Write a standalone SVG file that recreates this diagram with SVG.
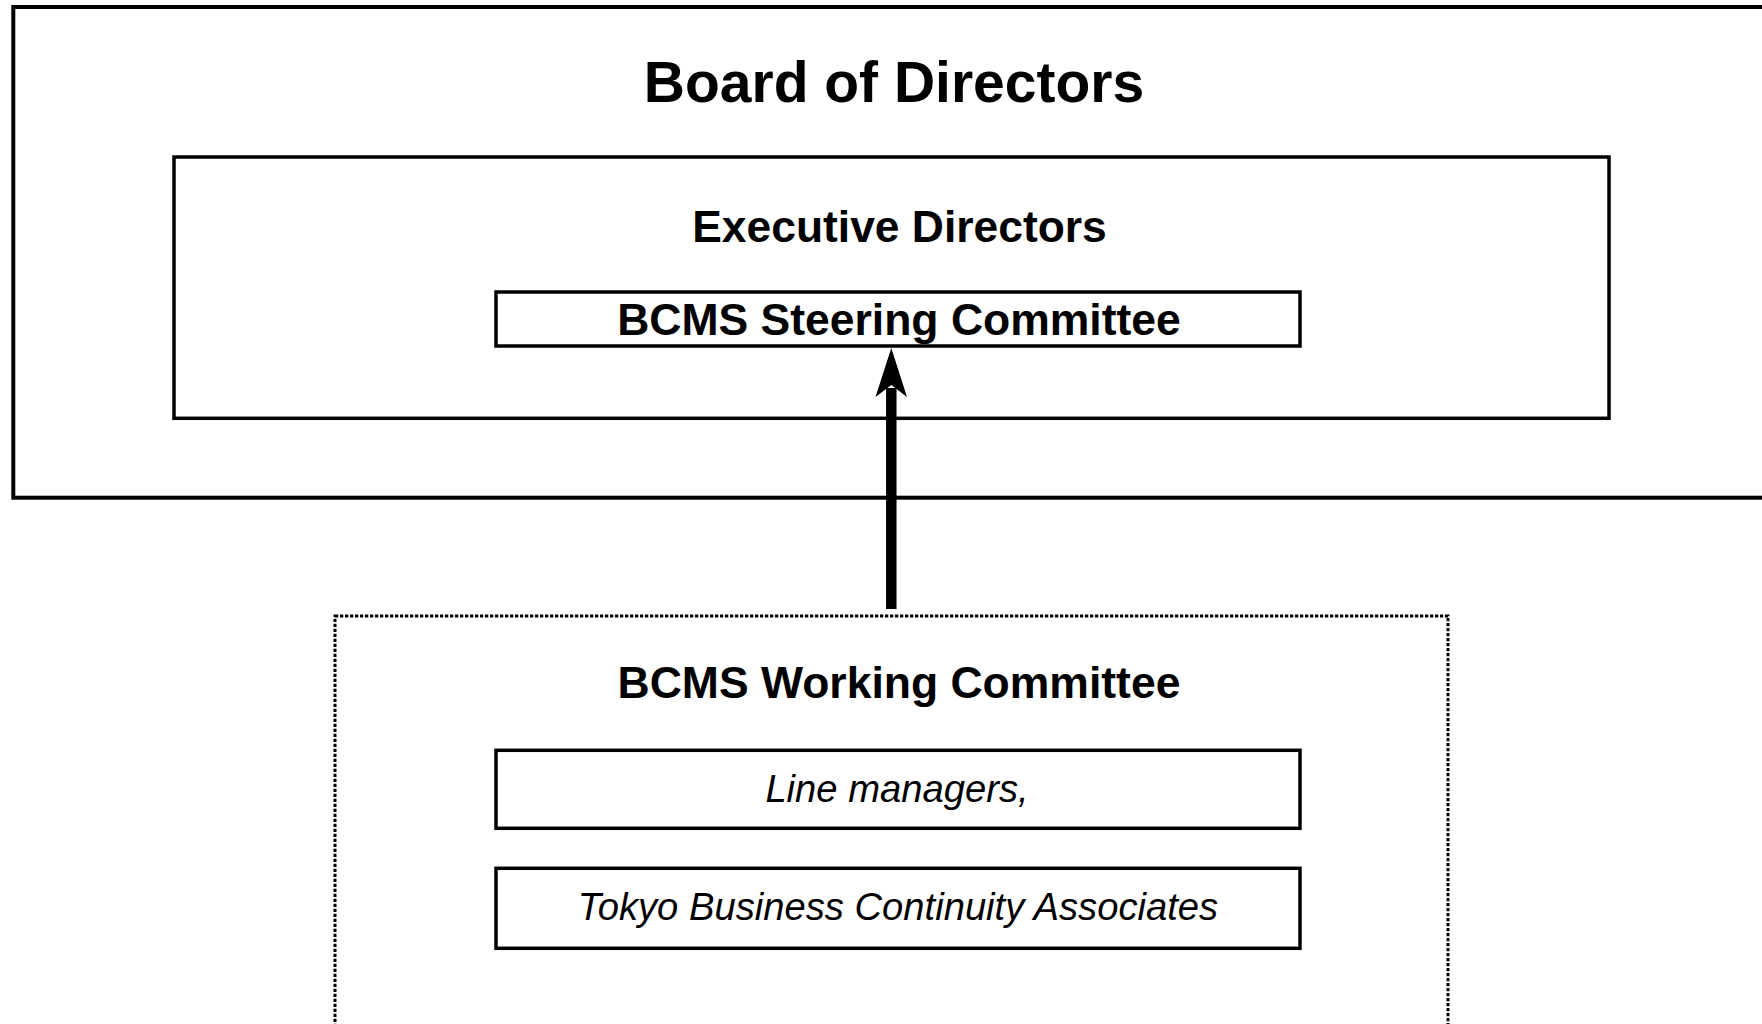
<svg xmlns="http://www.w3.org/2000/svg" width="1762" height="1024" viewBox="0 0 1762 1024">
  <style>
    .box { fill: none; stroke: #000; stroke-width: 3.5; }
    .dash { fill: none; stroke: #000; stroke-width: 3; stroke-dasharray: 3.3 1.7; }
    .t { font-family: "Liberation Sans", Arial, Helvetica, sans-serif; fill: #000; text-anchor: middle; }
    .b { font-weight: bold; }
    .i { font-style: italic; }
  </style>
  <rect x="0" y="0" width="1762" height="1024" fill="#fff"/>
  <g id="board">
    <rect class="box" x="13.3" y="7" width="1800" height="490.7" style="stroke-width:4"/>
    <text class="t b" x="894" y="102" font-size="57">Board of Directors</text>
  </g>
  <g id="executive">
    <rect class="box" x="174" y="157" width="1435" height="261.3"/>
    <text class="t b" x="899.5" y="242" font-size="44.4">Executive Directors</text>
  </g>
  <g id="steering">
    <rect class="box" x="496" y="292" width="804" height="54"/>
    <text class="t b" x="899" y="335" font-size="44.5">BCMS Steering Committee</text>
  </g>
  <g id="working">
    <rect class="dash" x="335" y="616" width="1113" height="500"/>
    <text class="t b" x="899" y="698" font-size="44.5">BCMS Working Committee</text>
  </g>
  <g id="line-managers">
    <rect class="box" x="496" y="750.3" width="804" height="78"/>
    <text class="t i" x="897" y="801.5" font-size="38.2">Line managers,</text>
  </g>
  <g id="tbca">
    <rect class="box" x="496" y="868.3" width="804" height="80"/>
    <text class="t i" x="898" y="919.5" font-size="38.2">Tokyo Business Continuity Associates</text>
  </g>
  <g id="connectors">
    <line x1="891.3" y1="609" x2="891.3" y2="388" stroke="#000" stroke-width="10.5"/>
    <polygon points="891.3,348 907,397 891.3,385 875.5,397" fill="#000"/>
  </g>
</svg>
